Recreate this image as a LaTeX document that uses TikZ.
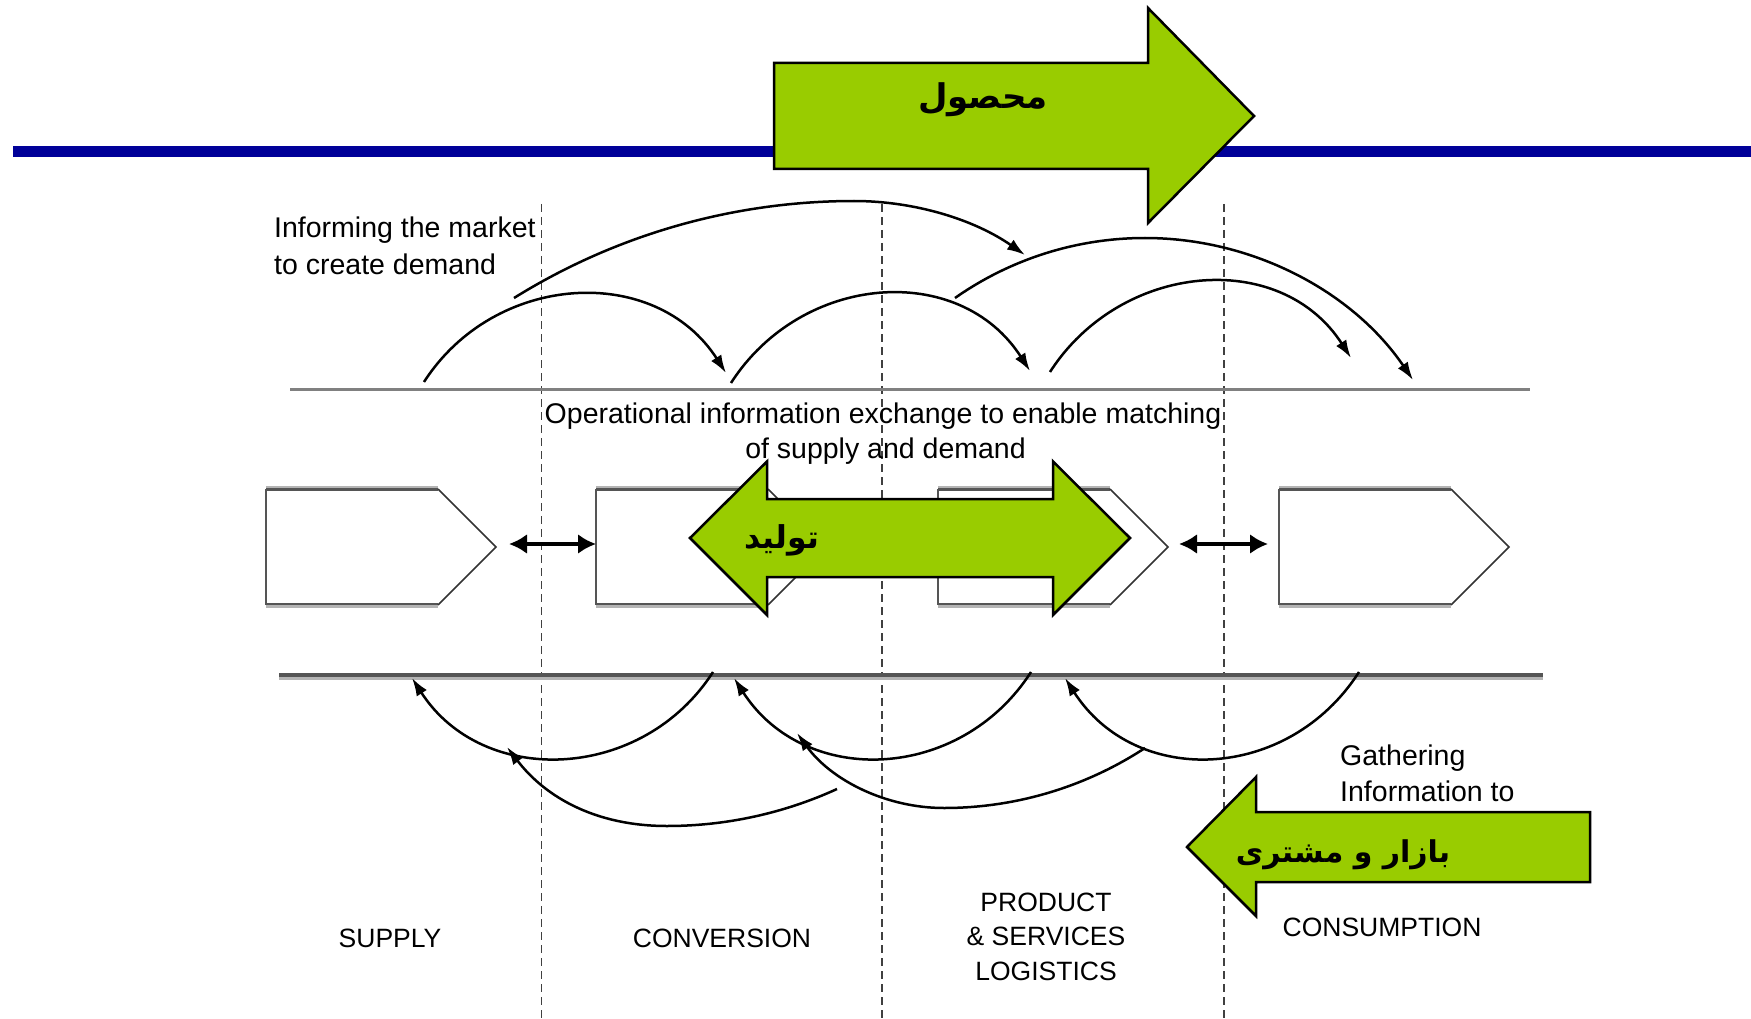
\documentclass[tikz,border=0pt]{standalone}
\usepackage{fontspec}
\setmainfont{Liberation Sans}
\newfontfamily\arabicfont[Script=Arabic]{DejaVu Sans}
\TeXXeTstate=1
\usetikzlibrary{arrows.meta}
\definecolor{leaf}{HTML}{99CC00}
\definecolor{navyband}{HTML}{000099}
\definecolor{rulegray}{HTML}{808080}
\definecolor{edgedark}{HTML}{555555}
\definecolor{edgelight}{HTML}{B4B4B4}

\begin{document}
\begin{tikzpicture}[x=1pt,y=-1pt,
  greenarrow/.style={fill=leaf,draw=black,line width=2.5pt,line join=miter},
  flowarc/.style={line width=2.5pt,-{Latex[length=18pt,width=12pt]}},
  lanedash/.style={draw=black!75,line width=1.4pt,dash pattern=on 8pt off 5pt},
  infotext/.style={inner sep=0pt,font=\fontsize{28.5}{34}\selectfont},
  stagetext/.style={inner sep=0pt,font=\fontsize{26.5}{32}\selectfont},
  farsi/.style={inner sep=0pt,font=\arabicfont\bfseries\fontsize{#1}{#1}\selectfont},
  farsi/.default=34,
  handoff/.style={line width=3.5pt,{Latex[length=18pt,width=20pt]}-{Latex[length=18pt,width=20pt]}},
]
\useasboundingbox (0,0) rectangle (1751,1019);

% blue band across the top
\draw[navyband,line width=10.5pt] (13,151.5) -- (1751,151.5);

% product flow arrow
\draw[greenarrow] (774,63) -- (1148,63) -- (1148,8) -- (1254,116) -- (1148,223)
  -- (1148,169) -- (774,169) -- cycle;
\node[farsi=34] (product) at (983,100) {\beginR محصول\endR};

% stage separators
\foreach \x in {541.6,882,1224}
  \draw[lanedash] (\x,204) -- (\x,1019);

% information rules
\draw[rulegray,line width=3pt] (290,389) -- (1530,389);
\draw[edgelight,line width=3pt] (279,678.5) -- (1543,678.5);
\draw[edgedark,line width=3.5pt] (279,675) -- (1543,675);

% stage chevrons
\foreach \L/\i in {266/1,596/2,938/3,1279/4}{
  \fill[white] (\L,489) -- (\L+172,489) -- (\L+230,547) -- (\L+172,605) -- (\L,605) -- cycle;
  \draw[edgelight,line width=2pt] (\L,487) -- (\L+172,487);
  \draw[edgedark,line width=2.5pt] (\L,489.5) -- (\L+172,489.5);
  \draw[edgedark,line width=2.5pt] (\L,604) -- (\L+172,604);
  \draw[edgelight,line width=2.5pt] (\L,606.5) -- (\L+172,606.5);
  \draw[edgedark,line width=2pt] (\L,489) -- (\L,605);
  \draw[black!80,line width=1.5pt] (\L+172,489) -- (\L+230,547) -- (\L+172,605);
  \coordinate (tip\i) at (\L+230,547);
  \coordinate (back\i) at (\L,547);
}

% two-way links between neighbouring stages
\coordinate (h1a) at (509,544);
\coordinate (h1b) at (596,544);
\coordinate (h2a) at (1179,544);
\coordinate (h2b) at (1268,544);
\draw[handoff] (h1a) -- (h1b);
\draw[handoff] (h2a) -- (h2b);

% upstream information arcs
\coordinate (u1s) at (424,382);  \coordinate (u1e) at (726,373);
\coordinate (u2s) at (731,383);  \coordinate (u2e) at (1030,371);
\coordinate (u3s) at (1050,372); \coordinate (u3e) at (1351,358);
\coordinate (w1s) at (514,298);  \coordinate (w1e) at (1025,255);
\coordinate (w2s) at (955,298);  \coordinate (w2e) at (1413,380);
\draw[flowarc] (u1s) .. controls (494.6,272) and (655.4,263) .. (u1e);
\draw[flowarc] (u2s) .. controls (801.6,273) and (959.4,261) .. (u2e);
\draw[flowarc] (u3s) .. controls (1120.6,262) and (1280.4,248) .. (u3e);
\draw[flowarc] (w1s) .. controls (616.1,234.5) and (733.7,201) .. (854,201)
  .. controls (915.2,201) and (974.9,219.9) .. (w1e);
\draw[flowarc] (w2s) .. controls (1010.7,258.9) and (1077,238) .. (1145,238)
  .. controls (1252.3,238) and (1352.7,291.3) .. (w2e);

% downstream information arcs
\coordinate (d1s) at (713,672);  \coordinate (d1e) at (412,678);
\coordinate (d2s) at (1031,672); \coordinate (d2e) at (734,678);
\coordinate (d3s) at (1359,672); \coordinate (d3e) at (1065,678);
\coordinate (v1s) at (837,789);  \coordinate (v1e) at (507,747);
\coordinate (v2s) at (1145,748); \coordinate (v2e) at (797,733);
\draw[flowarc] (d1s) .. controls (642.4,782) and (482.6,788) .. (d1e);
\draw[flowarc] (d2s) .. controls (960.4,782) and (804.6,788) .. (d2e);
\draw[flowarc] (d3s) .. controls (1288.4,782) and (1135.6,788) .. (d3e);
\draw[flowarc] (v1s) .. controls (783.6,813.4) and (725.7,826) .. (667,826)
  .. controls (595,826) and (545.1,796.8) .. (v1e);
\draw[flowarc] (v2s) .. controls (1085.3,787.1) and (1015.4,808) .. (944,808)
  .. controls (885.8,808) and (831.2,780.1) .. (v2e);

% captions
\node[infotext,anchor=base west] (inform1) at (274,238) {Informing the market};
\node[infotext,anchor=base west] (inform2) at (274,274) {to create demand};
\node[infotext,anchor=base] (ops1) at (883,423) {Operational information exchange to enable matching};
\node[infotext,anchor=base] (ops2) at (885.5,458) {of supply and demand};
\node[infotext,anchor=base west] (gather1) at (1340,765) {Gathering};
\node[infotext,anchor=base west] (gather2) at (1340,801) {Information to};

\node[stagetext,anchor=base] (supply) at (390,947) {SUPPLY};
\node[stagetext,anchor=base] (conversion) at (722,947) {CONVERSION};
\node[stagetext,anchor=base] (logist1) at (1046,911) {PRODUCT};
\node[stagetext,anchor=base] (logist2) at (1046,945) {\& SERVICES};
\node[stagetext,anchor=base] (logist3) at (1046,980) {LOGISTICS};
\node[stagetext,anchor=base] (consumption) at (1382,936) {CONSUMPTION};

% production two-way arrow
\draw[greenarrow] (690,538) -- (767,461.5) -- (767,499) -- (1053,499) -- (1053,461.5)
  -- (1130,538) -- (1053,615) -- (1053,577) -- (767,577) -- (767,615) -- cycle;
\node[farsi=31.5] (production) at (782,540) {\beginR تولید\endR};

% market and customer arrow
\draw[greenarrow] (1187,847) -- (1256,777) -- (1256,812) -- (1590,812) -- (1590,882)
  -- (1256,882) -- (1256,916) -- cycle;
\node[farsi=30] (market) at (1343,855) {\beginR بازار و مشتری\endR};
\end{tikzpicture}
\end{document}
